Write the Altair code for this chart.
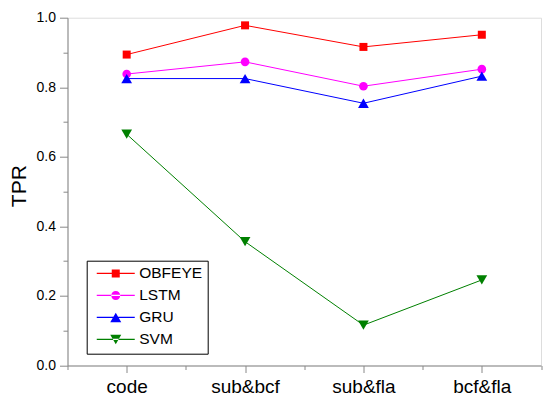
import altair as alt
import pandas as pd

categories = ["code", "sub&bcf", "sub&fla", "bcf&fla"]
series = ["OBFEYE", "LSTM", "GRU", "SVM"]
obfeye = [0.894, 0.978, 0.916, 0.951]
lstm = [0.838, 0.873, 0.803, 0.852]
gru = [0.825, 0.825, 0.754, 0.832]
svm = [0.665, 0.356, 0.116, 0.246]
colors = ["#FF0000", "#FF00FF", "#0000FF", "#008000"]
shapes = ["square", "circle", "triangle-up", "triangle-down"]
marker_sizes = [64, 75, 115, 115]
y_major = [0.0, 0.2, 0.4, 0.6, 0.8, 1.0]
y_minor = [0.1, 0.3, 0.5, 0.7, 0.9]
x_minor = [-0.5, 0.5, 1.5, 2.5, 3.5]

rows = []
for name, vals in zip(series, [obfeye, lstm, gru, svm]):
    for i, (cat, v) in enumerate(zip(categories, vals)):
        rows.append({"model": name, "cat": cat, "idx": i, "tpr": v})
df = pd.DataFrame(rows)

# legend symbol paths (thin bar + marker), in units of sqrt(size)/2
a = -0.54
m = round(a + 3.8, 3)
b = round(a + 7.6, 3)
bar = f"M{a},-0.12H{b}V0.12H{a}Z"
leg_paths = [
    bar + f"M{m-0.8:.3f},-0.8H{m+0.8:.3f}V0.8H{m-0.8:.3f}Z",
    bar + f"M{m-0.9:.3f},0A0.9,0.9 0 1,0 {m+0.9:.3f},0A0.9,0.9 0 1,0 {m-0.9:.3f},0Z",
    bar + f"M{m:.3f},-0.95L{m+1.1:.3f},0.95L{m-1.1:.3f},0.95Z",
    bar + f"M{m:.3f},0.95L{m+1.1:.3f},-0.95L{m-1.1:.3f},-0.95Z",
]

FONT = "Liberation Sans"
label_expr = "[" + ",".join("'" + c + "'" for c in categories) + "][datum.value]"

xscale = alt.Scale(domain=[-0.5, 3.5], nice=False, zero=False)
yscale = alt.Scale(domain=[0, 1], nice=False)

base = alt.Chart(df)

x_major_axis = alt.Axis(
    orient="bottom", values=[0, 1, 2, 3], labelExpr=label_expr, title=None,
    tickSize=7, labelFontSize=19, labelPadding=5, grid=False)
y_major_axis = alt.Axis(
    orient="left", values=y_major, format=".1f", title="TPR",
    tickSize=8, labelFontSize=14, labelPadding=4, grid=False,
    titleFontSize=21, titleFontWeight="normal", titleAngle=270,
    titleX=-42.5, titleY=168, titleAlign="center", titleBaseline="alphabetic")

layers = []
for k, (name, col) in enumerate(zip(series, colors)):
    sub = base.transform_filter(alt.datum.model == name)
    layers.append(
        sub.mark_line(strokeWidth=1, color=col).encode(
            x=alt.X("idx:Q", scale=xscale, axis=x_major_axis if k == 0 else None),
            y=alt.Y("tpr:Q", scale=yscale, axis=y_major_axis if k == 0 else None),
        )
    )
for name, col, shp, sz in zip(series, colors, shapes, marker_sizes):
    sub = base.transform_filter(alt.datum.model == name)
    layers.append(
        sub.mark_point(filled=True, opacity=1, shape=shp, size=sz, color=col).encode(
            x=alt.X("idx:Q", scale=xscale, axis=None),
            y=alt.Y("tpr:Q", scale=yscale, axis=None),
        )
    )

leg = alt.Legend(
    title=None, orient="none", legendX=19.2, legendY=243,
    symbolSize=100, symbolStrokeWidth=0, symbolOpacity=1,
    labelFontSize=15.5, labelFont=FONT, labelColor="black", labelOffset=32,
    padding=5, rowPadding=5, strokeColor="black",
)

legend_layer = base.mark_point(filled=True, opacity=0).encode(
    x=alt.X("idx:Q", scale=xscale, axis=alt.Axis(
        orient="bottom", values=x_minor, labels=False, title=None,
        tickSize=4, domain=False, grid=False)),
    y=alt.Y("tpr:Q", scale=yscale, axis=alt.Axis(
        orient="left", values=y_minor, labels=False, title=None,
        tickSize=4.5, domain=False, grid=False)),
    shape=alt.Shape("model:N", scale=alt.Scale(domain=series, range=leg_paths), legend=leg),
    color=alt.Color("model:N", scale=alt.Scale(domain=series, range=colors), legend=leg),
)
layers.append(legend_layer)

chart = alt.layer(*layers).resolve_axis(
    x="independent", y="independent"
).properties(
    width=473.5, height=347.8,
    autosize=alt.AutoSizeParams(type="none"),
    padding={"left": 67.5, "top": 17.7, "right": 8, "bottom": 30.5},
).configure_view(strokeWidth=0).configure_axis(
    labelFont=FONT, titleFont=FONT, labelColor="black", titleColor="black",
    domainColor="black", tickColor="black", domainWidth=1, tickWidth=1,
).configure_legend(strokeWidth=1).configure(background="white")

chart.save("out.html", embed_options={"renderer": "svg", "actions": False})
